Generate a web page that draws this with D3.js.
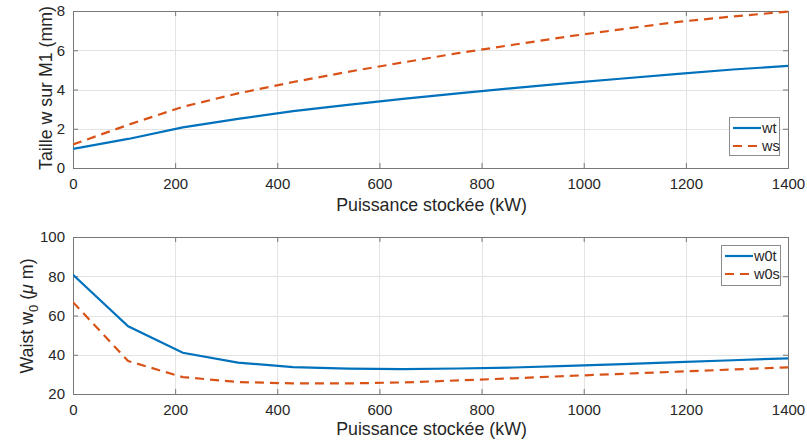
<!DOCTYPE html>
<html><head><meta charset="utf-8">
<script src="https://cdn.jsdelivr.net/npm/d3@7"></script>
<style>body{margin:0;background:#fff}svg{display:block}text{font-family:Helvetica,"Liberation Sans",Arial,sans-serif;fill:#262626}</style>
</head><body><svg id="c" width="807" height="443"></svg>
<script>
const power = [0,108,215,323,431,538,646,754,862,969,1077,1185,1292,1400];
const wt  = [0.97,1.48,2.07,2.5,2.9,3.22,3.52,3.8,4.07,4.32,4.56,4.8,5.02,5.2];
const ws  = [1.2,2.2,3.12,3.8,4.38,4.9,5.38,5.85,6.28,6.7,7.08,7.45,7.72,7.97];
const w0t = [80.8,54.5,41,36,33.7,32.9,32.7,33.0,33.5,34.3,35.2,36.2,37.2,38.2];
const w0s = [66.8,36.8,28.6,26.1,25.4,25.4,25.9,26.9,28,29.2,30.3,31.4,32.5,33.6];
const xTicks = [0,200,400,600,800,1000,1200,1400];
const yTicksTop = [0,2,4,6,8];
const yTicksBot = [20,40,60,80,100];
const BLUE="#0072BD", ORANGE="#D95319";

const svg = d3.select("#c");
const L=73, R=788;

function panel(top, bottom, yDom, yTicks, series, names, legendBox, xlabelY){
  const x = d3.scaleLinear().domain([0,1400]).range([L,R]);
  const y = d3.scaleLinear().domain(yDom).range([bottom,top]);
  const g = svg.append("g");
  g.selectAll(".gx").data(xTicks).enter().append("line")
    .attr("x1",d=>Math.round(x(d))+0.5).attr("x2",d=>Math.round(x(d))+0.5).attr("y1",top).attr("y2",bottom)
    .attr("stroke","#e3e3e3").attr("stroke-width",1);
  g.selectAll(".gy").data(yTicks).enter().append("line")
    .attr("y1",d=>Math.round(y(d))+0.5).attr("y2",d=>Math.round(y(d))+0.5).attr("x1",L).attr("x2",R)
    .attr("stroke","#e3e3e3").attr("stroke-width",1);
  const xa = d3.axisBottom(x).tickValues(xTicks).tickSize(-5).tickPadding(10).tickFormat(d3.format("d"));
  const xAxisG = g.append("g").attr("transform",`translate(0,${bottom})`).call(xa);
  const xt = d3.axisTop(x).tickValues(xTicks).tickSize(-5).tickFormat("");
  const xTopG = g.append("g").attr("transform",`translate(0,${top})`).call(xt);
  const ya = d3.axisLeft(y).tickValues(yTicks).tickSize(-5).tickPadding(8).tickFormat(d3.format("d"));
  const yAxisG = g.append("g").attr("transform",`translate(${L},0)`).call(ya);
  const yr = d3.axisRight(y).tickValues(yTicks).tickSize(-5).tickFormat("");
  const yRG = g.append("g").attr("transform",`translate(${R},0)`).call(yr);
  [xAxisG,xTopG,yAxisG,yRG].forEach(a=>{
    a.select(".domain").attr("stroke","#777");
    a.selectAll(".tick line").attr("stroke","#777");
    a.selectAll("text").attr("font-size","15px").attr("fill","#262626").attr("font-family","Helvetica,'Liberation Sans',Arial,sans-serif");
  });
  const clipId = "clip"+top;
  svg.append("clipPath").attr("id",clipId).append("rect").attr("x",L).attr("y",top-2).attr("width",R-L+2).attr("height",bottom-top+4);
  series.forEach((s,i)=>{
    const line = d3.line().x((d,j)=>x(power[j])).y(d=>y(d));
    g.append("path").datum(s).attr("d",line).attr("fill","none")
      .attr("stroke",i===0?BLUE:ORANGE).attr("stroke-width",2.2)
      .attr("stroke-dasharray",i===0?null:"9,6").attr("clip-path",`url(#${clipId})`);
  });
  const [lx,ly,lw,lh]=legendBox;
  g.append("rect").attr("x",lx+0.5).attr("y",ly+0.5).attr("width",lw).attr("height",lh).attr("fill","#fff").attr("stroke","#8c8c8c");
  names.forEach((n,i)=>{
    const yy = ly+11+i*18;
    g.append("line").attr("x1",lx+4).attr("x2",lx+32).attr("y1",yy).attr("y2",yy)
      .attr("stroke",i===0?BLUE:ORANGE).attr("stroke-width",2.2).attr("stroke-dasharray",i===0?null:"9,6");
    g.append("text").attr("x",lx+33).attr("y",yy+5).attr("font-size","14.5px").text(n);
  });
  g.append("text").attr("x",(L+R)/2+1).attr("y",xlabelY).attr("text-anchor","middle").attr("font-size","17.8px").text("Puissance stockée (kW)");
}

panel(11,168,[0,8],yTicksTop,[wt,ws],["wt","ws"],[729,117,50,38],211);
svg.append("text").attr("transform","translate(52,88) rotate(-90)").attr("text-anchor","middle").attr("font-size","17.8px").text("Taille w sur M1 (mm)");

panel(237,394,[20,100],yTicksBot,[w0t,w0s],["w0t","w0s"],[721,245,59,40],435);
const yl = svg.append("text").attr("transform","translate(33,316) rotate(-90)").attr("text-anchor","middle").attr("font-size","17.8px");
yl.append("tspan").text("Waist w");
yl.append("tspan").attr("dy",5).attr("font-size","13px").text("0");
yl.append("tspan").attr("dy",-5).text(" (");
yl.append("tspan").attr("font-style","italic").text("μ");
yl.append("tspan").text(" m)");
</script></body></html>
